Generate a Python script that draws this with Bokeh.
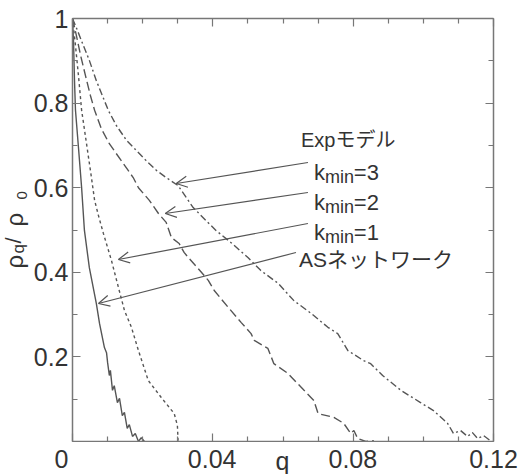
import math
from bokeh.plotting import figure
from bokeh.layouts import row, column
from bokeh.models import (Range1d, LinearAxis, FixedTicker, Arrow, OpenHead, Label)
from bokeh.core.properties import value
from bokeh.embed import file_html
from bokeh.resources import INLINE

# ---- data ----
as_q = [0, 0.00028, 0.00057, 0.00085, 0.0017, 0.0026, 0.0034, 0.0048, 0.0068, 0.0077, 0.0091, 0.0097,
        0.0100, 0.0105, 0.0108, 0.0114, 0.0119, 0.0128, 0.0134, 0.0142, 0.0148, 0.0156, 0.0162,
        0.0171, 0.0179, 0.0188, 0.0196, 0.0205]
as_r = [1.0, 0.948, 0.853, 0.783, 0.695, 0.600, 0.499, 0.411, 0.326, 0.279, 0.222, 0.210,
        0.187, 0.156, 0.168, 0.121, 0.132, 0.092, 0.102, 0.061, 0.069, 0.031, 0.040,
        0.012, 0.019, 0.0, 0.009, 0.0]

k1_q = [0, 0.00085, 0.0017, 0.0026, 0.0040, 0.0054, 0.0063, 0.0074, 0.0088, 0.0111, 0.0131,
        0.0148, 0.0168, 0.0188, 0.0216, 0.0253, 0.0290, 0.0299, 0.0301]
k1_r = [1.0, 0.936, 0.865, 0.783, 0.704, 0.624, 0.570, 0.534, 0.492, 0.428, 0.364,
        0.310, 0.270, 0.215, 0.144, 0.104, 0.066, 0.038, 0.0]

k2_q = [0, 0.0011, 0.0023, 0.0037, 0.0051, 0.0063, 0.0082, 0.0105, 0.0139, 0.0173, 0.0188,
        0.0219, 0.0245, 0.0267, 0.0282, 0.0304, 0.0318, 0.0330, 0.0358, 0.0387, 0.0404,
        0.0444, 0.0481, 0.0509, 0.0518, 0.0557, 0.0574, 0.0614, 0.0660, 0.0688, 0.0700,
        0.0745, 0.0773, 0.0793, 0.0802, 0.0813, 0.0836, 0.0859]
k2_r = [1.0, 0.960, 0.913, 0.865, 0.818, 0.783, 0.740, 0.704, 0.664, 0.624, 0.600,
        0.570, 0.539, 0.518, 0.482, 0.468, 0.447, 0.435, 0.409, 0.381, 0.357,
        0.317, 0.281, 0.255, 0.239, 0.220, 0.184, 0.161, 0.121, 0.097, 0.066,
        0.057, 0.043, 0.019, 0.026, 0.007, 0.0, 0.002]

k3_q = [0, 0.0014, 0.0031, 0.0048, 0.0068, 0.0085, 0.0102, 0.0125, 0.0154, 0.0182, 0.0210,
        0.0239, 0.0267, 0.0301, 0.0324, 0.0344, 0.0381, 0.0409, 0.0452, 0.0500, 0.0537,
        0.0586, 0.0631, 0.0680, 0.0728, 0.0756, 0.0785, 0.0830, 0.0850, 0.0884, 0.0936,
        0.0992, 0.1029, 0.1069, 0.1086, 0.1106, 0.1126, 0.1140, 0.1155, 0.1172, 0.1191]
k3_r = [1.0, 0.972, 0.936, 0.901, 0.853, 0.818, 0.783, 0.747, 0.712, 0.688, 0.664,
        0.641, 0.624, 0.605, 0.577, 0.553, 0.522, 0.499, 0.470, 0.435, 0.404,
        0.374, 0.333, 0.303, 0.270, 0.255, 0.215, 0.191, 0.184, 0.156, 0.121,
        0.092, 0.073, 0.043, 0.019, 0.026, 0.012, 0.021, 0.007, 0.014, 0.002]

x_ticks = [0, 0.04, 0.08, 0.12]
x_minor = [0.01, 0.02, 0.03, 0.05, 0.06, 0.07, 0.09, 0.10, 0.11]
x_tick_labels = ["0", "0.04", "0.08", "0.12"]
x_title = "q"
y_ticks = [0, 0.2, 0.4, 0.6, 0.8, 1.0]
y_minor = [0.1, 0.3, 0.5, 0.7, 0.9]
y_labels = {0: "", 0.2: "0.2", 0.4: "0.4", 0.6: "0.6", 0.8: "0.8", 1: "1"}

# ---- geometry (page pixels) ----
W, H = 519, 474
WL = 30                       # width of the y-title strip
L, R, T = 71, 26, 18          # frame left / right / top
FB = 441                      # frame bottom
HB = 1                        # bottom border of main figure
HP = FB + HB                  # main figure height
HS = H - HP                   # height of the x-label strip
FW, FH = W - L - R, FB - T
XMAX = 0.12

def dq(px):  # page x -> data q
    return (px - L) / FW * XMAX

def dr(py):  # page y -> data r
    return (FB - py) / FH

FONT = "Liberation Sans, Noto Sans CJK JP"
TXT = "#333333"
AX = "#777777"
LC = "#555555"
TICK_FS = "25px"

def no_align(fig):
    if "frame_align" in fig.properties():
        fig.frame_align = False

p = figure(width=W - WL, height=HP, x_range=Range1d(0, XMAX), y_range=Range1d(0, 1),
           output_backend="svg", toolbar_location=None,
           min_border_left=L - WL, min_border_right=R, min_border_top=T, min_border_bottom=HB)
p.xgrid.visible = False
p.ygrid.visible = False
p.outline_line_color = None
no_align(p)

def style_axis(ax, ticks, minor, labels, show):
    ax.ticker = FixedTicker(ticks=ticks, minor_ticks=minor)
    ax.axis_line_color = AX
    ax.axis_line_width = 1.5
    ax.major_tick_line_color = AX
    ax.minor_tick_line_color = AX
    ax.major_tick_line_width = 1.2
    ax.minor_tick_line_width = 1.2
    ax.major_tick_in = 8
    ax.major_tick_out = 0
    ax.minor_tick_in = 5
    ax.minor_tick_out = 0
    ax.major_label_overrides = labels
    ax.major_label_text_font = FONT
    ax.major_label_text_color = TXT
    if show:
        ax.major_label_text_font_size = TICK_FS
        ax.major_label_standoff = 4
    else:
        ax.major_label_text_font_size = "0px"
        ax.major_label_standoff = 0

style_axis(p.xaxis[0], x_ticks, x_minor, {t: "" for t in x_ticks}, False)
style_axis(p.yaxis[0], y_ticks, y_minor, y_labels, True)
top = LinearAxis()
right = LinearAxis()
style_axis(top, x_ticks, x_minor, {t: "" for t in x_ticks}, False)
style_axis(right, y_ticks, y_minor, {t: "" for t in y_ticks}, False)
p.add_layout(top, "above")
p.add_layout(right, "right")

# ---- curves ----
p.line(k3_q, k3_r, line_color=LC, line_width=1.4, line_dash="7 3 2 3")
p.line(k2_q, k2_r, line_color=LC, line_width=1.4, line_dash="9 4")
p.line(k1_q, k1_r, line_color=LC, line_width=1.4, line_dash="3 3")
p.line(as_q, as_r, line_color=LC, line_width=1.4)

# ---- arrows (tail at text, head at curve) ----
arrows = [((307, 162), (175, 183)),
          ((307, 192), (164, 213)),
          ((307, 223), (117, 259)),
          ((295, 252), (97, 303))]
for (tx, ty), (hx, hy) in arrows:
    p.add_layout(Arrow(x_start=dq(tx), y_start=dr(ty), x_end=dq(hx), y_end=dr(hy),
                       line_color=LC, line_width=1.2,
                       end=OpenHead(size=11, line_color=LC, line_width=1.2)))

# ---- annotation texts ----
def lab(px, py, text, size, align="left", baseline="alphabetic"):
    p.add_layout(Label(x=dq(px), y=dr(py), text=text, text_font=FONT,
                       text_font_size=f"{size}px", text_color=TXT,
                       text_align=align, text_baseline=baseline))

lab(300, 139, "Expモデル", 20)
for kv, base in (("3", 172), ("2", 202), ("1", 232)):
    lab(313, base, "k", 22)
    lab(324, base + 4, "min", 18)
    lab(353, base, "=" + kv, 22)
lab(298, 259, "ASネットワーク", 21)

# ---- x tick-label strip: same q scale as the main frame, spanning full width ----
xs = figure(width=W - WL, height=HS, x_range=Range1d(dq(WL), dq(W)), y_range=Range1d(0, HS),
            output_backend="svg", toolbar_location=None,
            x_axis_location=None, y_axis_location=None,
            min_border_left=0, min_border_right=0, min_border_top=0, min_border_bottom=0)
xs.xgrid.visible = False
xs.ygrid.visible = False
xs.outline_line_color = None
no_align(xs)
mid_y = H - 458    # vertical middle of the tick labels, strip units
xs.text(x=x_ticks[1:], y=[mid_y] * 3, text=x_tick_labels[1:], text_font=value(FONT),
        text_font_size=TICK_FS, text_color=TXT, text_align="center", text_baseline="middle")
xs.text(x=[x_ticks[0]], y=[mid_y], text=[x_tick_labels[0]], x_offset=-10, text_font=value(FONT),
        text_font_size=TICK_FS, text_color=TXT, text_align="center", text_baseline="middle")
xs.text(x=[XMAX / 2], y=[mid_y - 2], text=[x_title], text_font=value(FONT),
        text_font_size=TICK_FS, text_color=TXT, text_align="center", text_baseline="middle")

# ---- y title strip (rotated pieces with subscripts) ----
yl = figure(width=WL, height=H, x_range=Range1d(0, WL), y_range=Range1d(0, H),
            output_backend="svg", toolbar_location=None,
            x_axis_location=None, y_axis_location=None,
            min_border_left=0, min_border_right=0, min_border_top=0, min_border_bottom=0)
yl.xgrid.visible = False
yl.ygrid.visible = False
yl.outline_line_color = None
no_align(yl)
A = math.pi / 2
# (baseline x, start y, text, font size); anchored at the middle of the em box
pieces = [(22, 268, "ρ", 24), (24, 253, "q", 17), (21, 243, "/", 22),
          (22, 226, "ρ", 24), (26.5, 199, "0", 15)]
for bx, sy, t, fs in pieces:
    cx = bx - 0.3465 * fs
    yl.text(x=[cx], y=[H - sy], text=[t], angle=A, text_font=value(FONT),
            text_font_size=f"{fs}px", text_color=TXT,
            text_align="left", text_baseline="middle")

open("out.html", "w").write(file_html(row(yl, column(p, xs)), INLINE))
